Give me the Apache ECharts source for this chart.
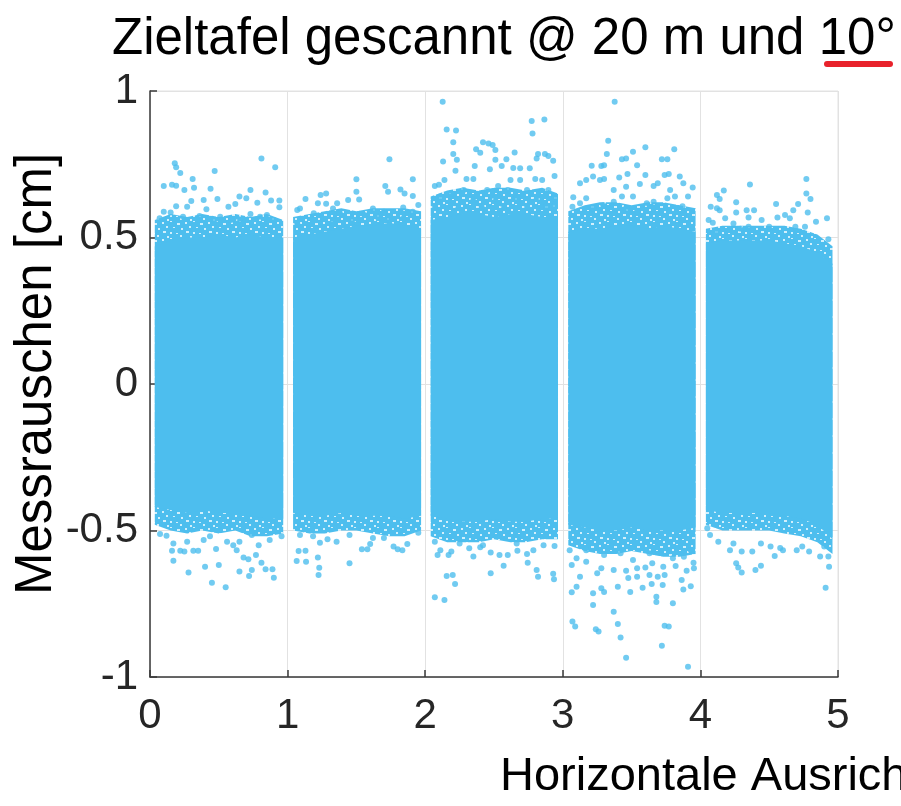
<!DOCTYPE html>
<html>
<head>
<meta charset="utf-8">
<script src="https://cdn.jsdelivr.net/npm/echarts@6/dist/echarts.min.js"></script>
<style>
  html, body { margin: 0; padding: 0; background: #fff; }
  #chart { width: 901px; height: 806px; }
</style>
</head>
<body>
<div id="chart"></div>
<script>
// Measurement noise of the target board, five horizontal positions.
const pointColor = '#4DBEEE';

// x-extent of each measurement block
const bandRanges = [[0.035, 0.968], [1.04, 1.97], [2.04, 2.965], [3.04, 3.965], [4.04, 4.96]];

// x positions where the block outlines are sampled
const edgeX = [
  [0.035, 0.15, 0.27, 0.38, 0.50, 0.62, 0.73, 0.85, 0.968],
  [1.04, 1.16, 1.27, 1.39, 1.50, 1.62, 1.74, 1.85, 1.97],
  [2.04, 2.16, 2.27, 2.39, 2.50, 2.62, 2.73, 2.85, 2.965],
  [3.04, 3.16, 3.27, 3.39, 3.50, 3.62, 3.73, 3.85, 3.965],
  [4.04, 4.16, 4.27, 4.39, 4.50, 4.61, 4.73, 4.85, 4.96]
];

// upper / lower outline of the fully covered core of each block
const coreTop = [
  [0.47, 0.49, 0.50, 0.50, 0.51, 0.50, 0.51, 0.50, 0.50],
  [0.50, 0.51, 0.52, 0.53, 0.54, 0.54, 0.55, 0.54, 0.53],
  [0.56, 0.57, 0.58, 0.58, 0.57, 0.58, 0.58, 0.57, 0.57],
  [0.52, 0.53, 0.53, 0.54, 0.54, 0.53, 0.54, 0.53, 0.52],
  [0.48, 0.49, 0.49, 0.49, 0.49, 0.48, 0.47, 0.45, 0.41]
];
const coreBottom = [
  [-0.42, -0.43, -0.44, -0.43, -0.44, -0.44, -0.45, -0.46, -0.46],
  [-0.44, -0.45, -0.45, -0.44, -0.45, -0.45, -0.45, -0.46, -0.45],
  [-0.45, -0.46, -0.47, -0.47, -0.46, -0.47, -0.47, -0.46, -0.46],
  [-0.48, -0.49, -0.50, -0.50, -0.49, -0.50, -0.50, -0.50, -0.49],
  [-0.43, -0.44, -0.44, -0.44, -0.44, -0.45, -0.46, -0.48, -0.53]
];

// outline of the dense but no longer closed margin around each core
const fringeTop = [
  [0.56, 0.58, 0.57, 0.58, 0.57, 0.58, 0.57, 0.58, 0.56],
  [0.57, 0.58, 0.59, 0.60, 0.59, 0.60, 0.60, 0.60, 0.59],
  [0.64, 0.66, 0.67, 0.66, 0.67, 0.67, 0.66, 0.67, 0.65],
  [0.59, 0.61, 0.62, 0.62, 0.61, 0.62, 0.62, 0.61, 0.60],
  [0.53, 0.54, 0.54, 0.54, 0.54, 0.54, 0.53, 0.51, 0.47]
];
const fringeBottom = [
  [-0.48, -0.50, -0.51, -0.50, -0.51, -0.50, -0.52, -0.52, -0.51],
  [-0.50, -0.51, -0.51, -0.50, -0.50, -0.51, -0.52, -0.52, -0.50],
  [-0.52, -0.54, -0.54, -0.54, -0.53, -0.54, -0.54, -0.53, -0.53],
  [-0.55, -0.57, -0.58, -0.58, -0.57, -0.58, -0.59, -0.59, -0.58],
  [-0.48, -0.50, -0.50, -0.50, -0.50, -0.51, -0.52, -0.54, -0.58]
];

// individual outlying samples [x, noise in cm]
const band1Points = [
  [0.18,0.753],[0.19,0.74],[0.22,0.72],[0.10,0.676],[0.16,0.68],[0.19,0.677],[0.31,0.70],[0.32,0.67],
  [0.47,0.727],[0.81,0.77],[0.91,0.74],[0.44,0.666],[0.25,0.662],[0.73,0.662],[0.84,0.654],[0.65,0.64],
  [0.49,0.631],[0.39,0.628],[0.30,0.625],[0.19,0.607],[0.10,0.588],[0.15,0.585],[0.27,0.605],[0.57,0.605],
  [0.62,0.614],[0.70,0.634],[0.78,0.619],[0.88,0.626],[0.94,0.626],[0.94,0.603],[0.41,0.596],[0.36,0.573],
  [0.51,0.571],[0.73,0.58],[0.80,0.571],[0.85,0.577],[0.24,0.571],[0.07,0.566],[0.65,0.562],[0.90,0.56],
  [0.47,0.56],[0.59,0.56],
  [0.073,-0.512],[0.12,-0.518],[0.17,-0.544],[0.16,-0.569],[0.22,-0.569],[0.25,-0.572],[0.17,-0.603],
  [0.315,-0.569],[0.35,-0.569],[0.28,-0.643],[0.40,-0.624],[0.45,-0.678],[0.50,-0.618],[0.55,-0.694],
  [0.48,-0.563],[0.605,-0.55],[0.63,-0.567],[0.65,-0.64],[0.68,-0.592],[0.715,-0.598],[0.72,-0.655],
  [0.74,-0.635],[0.77,-0.584],[0.81,-0.61],[0.84,-0.632],[0.89,-0.632],[0.90,-0.661],[0.79,-0.55],
  [0.87,-0.532],[0.74,-0.515],[0.956,-0.52],[0.27,-0.538],[0.39,-0.532],[0.436,-0.52],[0.56,-0.538],[0.65,-0.538]
];
const band2Points = [
  [1.74,0.767],[1.50,0.699],[1.91,0.699],[1.71,0.676],[1.73,0.656],[1.50,0.656],[1.28,0.65],[1.24,0.645],
  [1.82,0.664],[1.85,0.65],[1.91,0.642],[1.13,0.631],[1.36,0.617],[1.44,0.628],[1.52,0.63],[1.22,0.617],
  [1.28,0.615],[1.07,0.594],[1.09,0.599],[1.33,0.599],[1.38,0.583],[1.70,0.588],[1.62,0.599],[1.84,0.602],
  [1.95,0.611],[1.91,0.588],[1.65,0.571],[1.56,0.577],[1.19,0.583],[1.07,0.548],[1.74,0.56],[1.84,0.566],
  [1.33,0.56],[1.47,0.554],
  [1.066,-0.604],[1.134,-0.607],[1.08,-0.57],[1.13,-0.569],[1.22,-0.592],[1.23,-0.627],[1.225,-0.652],
  [1.45,-0.612],[1.185,-0.52],[1.235,-0.542],[1.29,-0.53],[1.09,-0.515],[1.54,-0.564],[1.60,-0.546],
  [1.58,-0.564],[1.70,-0.526],[1.77,-0.555],[1.80,-0.564],[1.834,-0.567],[1.87,-0.546],[1.95,-0.508],
  [1.62,-0.526],[1.356,-0.538],[1.45,-0.515]
];
const band3Points = [
  [2.127,0.963],[2.156,0.869],[2.224,0.865],[2.204,0.825],[2.13,0.759],[2.204,0.785],[2.23,0.765],[2.22,0.728],
  [2.42,0.825],[2.46,0.821],[2.49,0.816],[2.37,0.801],[2.40,0.789],[2.51,0.799],[2.65,0.79],[2.774,0.898],
  [2.78,0.855],[2.866,0.903],[2.36,0.744],[2.51,0.765],[2.59,0.767],[2.556,0.744],[2.47,0.733],[2.81,0.77],
  [2.87,0.785],[2.895,0.778],[2.93,0.762],[2.82,0.785],[2.69,0.736],[2.76,0.736],[2.64,0.737],[2.94,0.71],
  [2.30,0.70],[2.35,0.70],[2.14,0.696],[2.07,0.676],[2.10,0.68],[2.53,0.676],[2.69,0.696],[2.80,0.70],
  [2.85,0.696],[2.62,0.696],[2.28,0.662],[2.45,0.662],[2.60,0.662],[2.74,0.662],[2.895,0.662],[2.94,0.634],
  [2.11,0.64],[2.19,0.65],[2.35,0.628],[2.51,0.634],[2.665,0.634],[2.81,0.631],[2.07,0.605],[2.24,0.60],
  [2.41,0.605],[2.57,0.607],[2.74,0.605],[2.88,0.607],[2.94,0.607],
  [2.07,-0.728],[2.14,-0.737],[2.156,-0.655],[2.20,-0.652],[2.217,-0.683],[2.476,-0.646],[2.57,-0.62],
  [2.745,-0.61],[2.81,-0.635],[2.82,-0.658],[2.93,-0.648],[2.936,-0.666],[2.09,-0.584],[2.17,-0.584],
  [2.19,-0.572],[2.35,-0.589],[2.476,-0.575],[2.54,-0.584],[2.60,-0.584],[2.67,-0.569],[2.74,-0.58],
  [2.786,-0.567],[2.86,-0.55],[2.94,-0.553],[2.32,-0.561],[2.40,-0.557],[2.07,-0.538],[2.11,-0.567],
  [2.665,-0.544],[2.42,-0.55],[2.25,-0.544]
];
const band4Points = [
  [3.377,0.963],[3.33,0.83],[3.32,0.785],[3.51,0.793],[3.60,0.808],[3.81,0.801],[3.43,0.767],[3.46,0.77],
  [3.21,0.745],[3.28,0.744],[3.30,0.747],[3.54,0.747],[3.72,0.767],[3.76,0.767],[3.17,0.696],[3.125,0.685],
  [3.22,0.708],[3.27,0.696],[3.30,0.70],[3.41,0.705],[3.47,0.717],[3.60,0.713],[3.74,0.713],[3.77,0.717],
  [3.85,0.708],[3.876,0.685],[3.944,0.671],[3.076,0.637],[3.37,0.662],[3.46,0.673],[3.56,0.683],[3.66,0.676],
  [3.69,0.685],[3.78,0.662],[3.51,0.64],[3.43,0.64],[3.17,0.634],[3.125,0.617],[3.294,0.61],[3.66,0.622],
  [3.815,0.64],[3.91,0.64],[3.37,0.622],[3.61,0.617],[3.76,0.634],[3.87,0.607],[3.07,0.605],[3.22,0.60],
  [3.46,0.60],[3.54,0.59],
  [3.46,-0.934],[3.91,-0.965],[3.72,-0.893],[3.07,-0.811],[3.09,-0.828],[3.24,-0.837],[3.26,-0.845],
  [3.40,-0.819],[3.42,-0.865],[3.37,-0.777],[3.22,-0.754],[3.74,-0.825],[3.77,-0.828],[3.80,-0.748],
  [3.68,-0.726],[3.68,-0.744],[3.065,-0.711],[3.10,-0.692],[3.22,-0.714],[3.28,-0.697],[3.30,-0.71],
  [3.40,-0.692],[3.49,-0.71],[3.58,-0.695],[3.646,-0.683],[3.726,-0.686],[3.876,-0.701],[3.93,-0.69],
  [3.125,-0.658],[3.25,-0.646],[3.54,-0.658],[3.63,-0.652],[3.69,-0.658],[3.74,-0.652],[3.864,-0.669],
  [3.953,-0.629],[3.95,-0.61],[3.065,-0.618],[3.10,-0.595],[3.17,-0.607],[3.28,-0.629],[3.37,-0.635],
  [3.46,-0.637],[3.476,-0.662],[3.54,-0.629],[3.60,-0.626],[3.65,-0.612],[3.73,-0.624],[3.82,-0.621],
  [3.90,-0.637],[3.05,-0.567],[3.17,-0.567],[3.30,-0.584],[3.42,-0.578],[3.51,-0.601],[3.63,-0.578],
  [3.80,-0.595],[3.88,-0.59],[3.93,-0.567]
];
const band5Points = [
  [4.36,0.681],[4.77,0.70],[4.17,0.66],[4.77,0.65],[4.12,0.645],[4.14,0.631],[4.26,0.62],[4.80,0.631],
  [4.075,0.605],[4.12,0.60],[4.14,0.593],[4.336,0.593],[4.39,0.593],[4.55,0.614],[4.71,0.614],[4.78,0.585],
  [4.26,0.585],[4.615,0.577],[4.675,0.593],[4.92,0.566],[4.06,0.56],[4.09,0.55],[4.18,0.566],[4.35,0.568],
  [4.445,0.56],[4.56,0.568],[4.65,0.566],[4.84,0.554],[4.76,0.537],[4.69,0.537],[4.93,0.494],[4.24,0.548],
  [4.50,0.537],[4.35,0.537],[4.12,0.52],[4.29,0.53],
  [4.91,-0.695],[4.935,-0.624],[4.30,-0.643],[4.275,-0.626],[4.26,-0.612],[4.40,-0.635],[4.44,-0.62],
  [4.215,-0.567],[4.30,-0.572],[4.377,-0.572],[4.54,-0.587],[4.70,-0.567],[4.79,-0.572],[4.87,-0.589],
  [4.93,-0.589],[4.60,-0.567],[4.13,-0.538],[4.07,-0.515],[4.05,-0.492],[4.51,-0.555],[4.58,-0.56],
  [4.74,-0.555],[4.44,-0.544],[4.24,-0.544],[4.90,-0.555]
];

// axis ticks
const xTicks = [0, 1, 2, 3, 4, 5];
const yTicks = [-1, -0.5, 0, 0.5, 1];

const titleText = 'Zieltafel gescannt @ 20 m und 10°';
const xName = 'Horizontale Ausrichtung [m]';
const yName = 'Messrauschen [cm]';

const fontFamily = '"Liberation Sans", Arial, Helvetica, sans-serif';

// speckled fill for the loosely packed margin of each block
function speckleTile() {
  const c = document.createElement('canvas');
  c.width = 23; c.height = 17;
  const g = c.getContext('2d');
  g.fillStyle = pointColor;
  g.fillRect(0, 0, c.width, c.height);
  g.fillStyle = 'rgba(255,255,255,0.75)';
  const specks = [
    [1, 1, 2, 2], [9, 0, 2, 1], [16, 2, 3, 2], [5, 5, 2, 2], [12, 6, 2, 1], [20, 7, 2, 2],
    [2, 10, 3, 2], [9, 11, 2, 2], [15, 12, 2, 1], [6, 15, 2, 2], [19, 14, 2, 2]
  ];
  specks.forEach(s => g.fillRect(s[0], s[1], s[2], s[3]));
  return c;
}
const marginFill = { image: speckleTile(), repeat: 'repeat' };

const chart = echarts.init(document.getElementById('chart'), null, { renderer: 'canvas' });

function blockOutline(api, b, top, bottom) {
  const pts = [];
  const xs = edgeX[b];
  for (let k = 0; k < xs.length; k++) pts.push(api.coord([xs[k], top[b][k]]));
  for (let k = xs.length - 1; k >= 0; k--) pts.push(api.coord([xs[k], bottom[b][k]]));
  return pts;
}

const option = {
  backgroundColor: '#ffffff',
  animation: false,
  grid: {
    left: 150, right: 63, top: 91, bottom: 129,
    show: true, borderColor: '#e2e2e2', borderWidth: 1, backgroundColor: 'transparent'
  },
  xAxis: {
    type: 'value',
    min: xTicks[0], max: xTicks[xTicks.length - 1], interval: 1,
    axisLine: { show: true, onZero: false, lineStyle: { color: '#3a3a3a', width: 1.5 } },
    axisTick: { show: true, inside: true, length: 7, lineStyle: { color: '#3a3a3a', width: 1.5 } },
    axisLabel: { color: '#262626', fontSize: 42, fontFamily: fontFamily, margin: 18 },
    splitLine: { show: true, lineStyle: { color: '#e2e2e2', width: 1 } }
  },
  yAxis: {
    type: 'value',
    min: yTicks[0], max: yTicks[yTicks.length - 1], interval: 0.5,
    axisLine: { show: true, onZero: false, lineStyle: { color: '#3a3a3a', width: 1.5 } },
    axisTick: { show: true, inside: true, length: 7, lineStyle: { color: '#3a3a3a', width: 1.5 } },
    axisLabel: { color: '#262626', fontSize: 42, fontFamily: fontFamily, margin: 12 },
    splitLine: { show: true, lineStyle: { color: '#e2e2e2', width: 1 } }
  },
  series: [
    {
      type: 'custom',
      name: 'Kern',
      data: bandRanges.map((r, i) => [i, r[0], r[1]]),
      clip: true,
      renderItem: function (params, api) {
        const b = api.value(0);
        return {
          type: 'group',
          children: [
            { type: 'polygon', shape: { points: blockOutline(api, b, fringeTop, fringeBottom) },
              style: { fill: marginFill } },
            { type: 'polygon', shape: { points: blockOutline(api, b, coreTop, coreBottom) },
              style: { fill: pointColor } }
          ]
        };
      },
      z: 2
    },
    { type: 'scatter', name: '1', data: band1Points, symbol: 'circle', symbolSize: 6, itemStyle: { color: pointColor }, z: 3 },
    { type: 'scatter', name: '2', data: band2Points, symbol: 'circle', symbolSize: 6, itemStyle: { color: pointColor }, z: 3 },
    { type: 'scatter', name: '3', data: band3Points, symbol: 'circle', symbolSize: 6, itemStyle: { color: pointColor }, z: 3 },
    { type: 'scatter', name: '4', data: band4Points, symbol: 'circle', symbolSize: 6, itemStyle: { color: pointColor }, z: 3 },
    { type: 'scatter', name: '5', data: band5Points, symbol: 'circle', symbolSize: 6, itemStyle: { color: pointColor }, z: 3 }
  ],
  graphic: [
    { type: 'text', x: 112, y: 40,
      style: { text: titleText, font: '51px ' + fontFamily, fill: '#000000', align: 'left', verticalAlign: 'middle' } },
    { type: 'line', shape: { x1: 827, y1: 64, x2: 890, y2: 64 },
      style: { stroke: '#e8222b', lineWidth: 6, lineCap: 'round' } },
    { type: 'text', x: 500, y: 777,
      style: { text: xName, font: '47px ' + fontFamily, fill: '#000000', align: 'left', verticalAlign: 'middle' } },
    { type: 'text', x: 37, y: 374, rotation: Math.PI / 2,
      style: { text: yName, font: '51px ' + fontFamily, fill: '#000000', align: 'center', verticalAlign: 'middle' } }
  ]
};

chart.setOption(option);
</script>
</body>
</html>
